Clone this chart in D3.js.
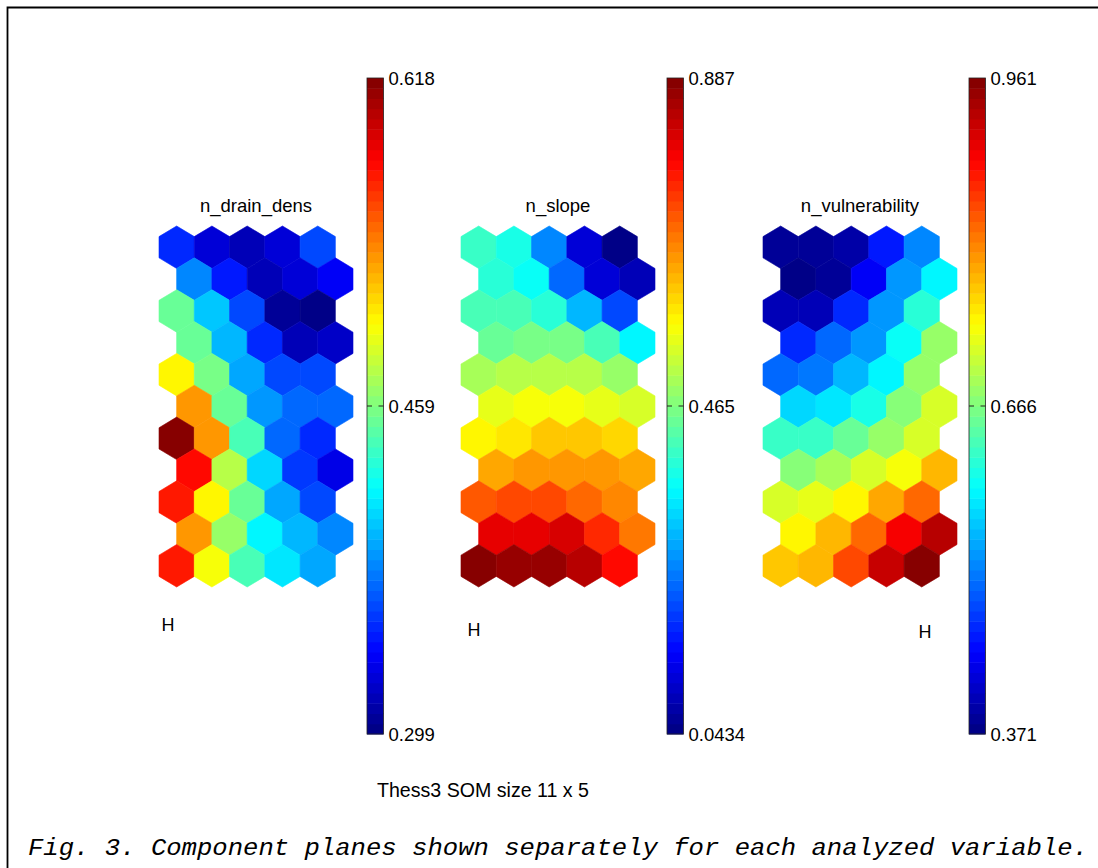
<!DOCTYPE html>
<html>
<head>
<meta charset="utf-8">
<script src="https://cdn.jsdelivr.net/npm/d3@7"></script>
<style>
  body { margin: 0; background: #fff; }
  text { font-family: Arial, "Liberation Sans", sans-serif; fill: #000; }
</style>
</head>
<body>
<div id="chart"></div>
<script>
// component names and colorbar limits
var names = ["n_drain_dens", "n_slope", "n_vulnerability"];
var mins = [0.299, 0.0434, 0.371];
var maxs = [0.618, 0.887, 0.961];
var tickLabels = [["0.299", "0.459", "0.618"], ["0.0434", "0.465", "0.887"], ["0.371", "0.666", "0.961"]];

// component plane values, 11 rows x 5 columns (row 0 = top)
var drainDens = [
    [0.353, 0.328, 0.315, 0.325, 0.363],
    [0.382, 0.347, 0.318, 0.325, 0.337],
    [0.449, 0.401, 0.360, 0.305, 0.299],
    [0.452, 0.395, 0.353, 0.318, 0.321],
    [0.503, 0.455, 0.392, 0.360, 0.360],
    [0.529, 0.452, 0.385, 0.372, 0.369],
    [0.618, 0.532, 0.439, 0.372, 0.353],
    [0.577, 0.478, 0.404, 0.356, 0.331],
    [0.573, 0.503, 0.449, 0.392, 0.360],
    [0.532, 0.465, 0.417, 0.398, 0.379],
    [0.573, 0.497, 0.439, 0.411, 0.392]
];
var slope = [
    [0.406, 0.381, 0.263, 0.111, 0.0434],
    [0.398, 0.360, 0.229, 0.111, 0.086],
    [0.415, 0.423, 0.398, 0.296, 0.204],
    [0.448, 0.465, 0.465, 0.415, 0.347],
    [0.499, 0.507, 0.516, 0.507, 0.482],
    [0.545, 0.566, 0.566, 0.555, 0.533],
    [0.571, 0.592, 0.617, 0.617, 0.600],
    [0.642, 0.651, 0.659, 0.651, 0.642],
    [0.710, 0.718, 0.718, 0.701, 0.668],
    [0.803, 0.803, 0.811, 0.752, 0.685],
    [0.887, 0.862, 0.862, 0.836, 0.769]
];
var vulnerability = [
    [0.383, 0.383, 0.395, 0.454, 0.524],
    [0.371, 0.389, 0.442, 0.530, 0.589],
    [0.401, 0.406, 0.471, 0.530, 0.619],
    [0.465, 0.501, 0.530, 0.601, 0.678],
    [0.507, 0.513, 0.548, 0.589, 0.678],
    [0.572, 0.578, 0.607, 0.666, 0.719],
    [0.625, 0.625, 0.648, 0.684, 0.719],
    [0.672, 0.690, 0.713, 0.737, 0.784],
    [0.719, 0.725, 0.740, 0.790, 0.831],
    [0.740, 0.784, 0.825, 0.896, 0.932],
    [0.772, 0.784, 0.843, 0.920, 0.961]
];
var planes = [drainDens, slope, vulnerability];

var width = 1098, height = 868;

var svg = d3.select("#chart")
    .append("svg")
    .attr("width", width)
    .attr("height", height);

// figure frame (open at right and bottom, like the cropped scan)
svg.append("path")
    .attr("d", "M7.5," + height + "V7.5H" + width)
    .attr("fill", "none")
    .attr("stroke", "#000")
    .attr("stroke-width", 1.8);

// matlab jet colormap, 64 levels
function jet(t) {
    var c = function (v) { return Math.max(0, Math.min(1, v)); };
    return d3.rgb(255 * c(1.5 - Math.abs(4 * t - 3)),
        255 * c(1.5 - Math.abs(4 * t - 2)),
        255 * c(1.5 - Math.abs(4 * t - 1))).formatHex();
}
var jet64 = d3.range(64).map(function (i) { return jet((i + 0.5) / 64); });

// layout of each panel
var gridLeft = [159, 461, 763],
    gridW = 194,
    gridTop = 226,
    gridBottom = 587;
var barLeft = [367, 667, 969],
    barW = 16.5,
    barTop = 78,
    barBottom = 734;
var hPos = [[168, 625], [474, 630], [925, 632]];

planes.forEach(function (plane, p) {
    var color = d3.scaleQuantize()
        .domain([mins[p], maxs[p]])
        .range(jet64);

    // hex grid scales: columns in half-hex units, rows top to bottom
    var x = d3.scaleLinear()
        .domain([-0.5, 5])
        .range([gridLeft[p], gridLeft[p] + gridW]);
    var rowStep = (gridBottom - gridTop) / (10 + 4 / 3);
    var r = rowStep / 1.5;
    var y = d3.scaleLinear()
        .domain([0, 10])
        .range([gridTop + r, gridBottom - r]);
    var hw = x(0.5) - x(0);

    var hexPath = "M0," + (-r) + "L" + hw + "," + (-r / 2) + "L" + hw + "," + (r / 2) +
        "L0," + r + "L" + (-hw) + "," + (r / 2) + "L" + (-hw) + "," + (-r / 2) + "Z";

    var cells = [];
    plane.forEach(function (row, i) {
        row.forEach(function (v, j) { cells.push({ row: i, col: j, value: v }); });
    });

    var g = svg.append("g");
    g.selectAll("path")
        .data(cells)
        .enter()
        .append("path")
        .attr("d", hexPath)
        .attr("transform", function (d) {
            return "translate(" + x(d.col + (d.row % 2) * 0.5) + "," + y(d.row) + ")";
        })
        .attr("fill", function (d) { return color(d.value); })
        .attr("stroke", function (d) { return color(d.value); })
        .attr("stroke-width", 0.6);

    // title
    svg.append("text")
        .attr("x", gridLeft[p] + gridW / 2)
        .attr("y", 212)
        .attr("text-anchor", "middle")
        .style("font-size", "18.5px")
        .text(names[p]);

    // "H" marker
    svg.append("text")
        .attr("x", hPos[p][0])
        .attr("y", hPos[p][1])
        .attr("text-anchor", "middle")
        .attr("dominant-baseline", "central")
        .style("font-size", "18px")
        .text("H");

    // colorbar
    var cy = d3.scaleLinear()
        .domain([mins[p], maxs[p]])
        .range([barBottom, barTop]);
    var step = (maxs[p] - mins[p]) / 64;
    svg.append("g")
        .selectAll("rect")
        .data(jet64)
        .enter()
        .append("rect")
        .attr("x", barLeft[p])
        .attr("width", barW)
        .attr("y", function (d, i) { return cy(mins[p] + (i + 1) * step); })
        .attr("height", function (d, i) { return cy(mins[p] + i * step) - cy(mins[p] + (i + 1) * step) + 0.5; })
        .attr("fill", function (d) { return d; });

    svg.append("rect")
        .attr("x", barLeft[p])
        .attr("y", barTop)
        .attr("width", barW)
        .attr("height", barBottom - barTop)
        .attr("fill", "none")
        .attr("stroke", "#222")
        .attr("stroke-width", 0.8);

    var ticks = [mins[p], (mins[p] + maxs[p]) / 2, maxs[p]];
    var tg = svg.append("g");
    tg.selectAll("line.l")
        .data(ticks.slice(1, 2))
        .enter()
        .append("line")
        .attr("x1", barLeft[p]).attr("x2", barLeft[p] + 5)
        .attr("y1", function (d) { return cy(d); }).attr("y2", function (d) { return cy(d); })
        .attr("stroke", "#222");
    tg.selectAll("line.r")
        .data(ticks.slice(1, 2))
        .enter()
        .append("line")
        .attr("x1", barLeft[p] + barW - 5).attr("x2", barLeft[p] + barW)
        .attr("y1", function (d) { return cy(d); }).attr("y2", function (d) { return cy(d); })
        .attr("stroke", "#222");
    tg.selectAll("text")
        .data(ticks)
        .enter()
        .append("text")
        .attr("x", barLeft[p] + barW + 5)
        .attr("y", function (d) { return cy(d); })
        .attr("dominant-baseline", "central")
        .style("font-size", "18.5px")
        .text(function (d, i) { return tickLabels[p][i]; });
});

// figure title and caption
svg.append("text")
    .attr("x", 483)
    .attr("y", 797)
    .attr("text-anchor", "middle")
    .attr("textLength", 212)
    .attr("lengthAdjust", "spacingAndGlyphs")
    .style("font-size", "19.5px")
    .text("Thess3 SOM size 11 x 5");

svg.append("text")
    .attr("x", 28)
    .attr("y", 855)
    .attr("textLength", 1060)
    .attr("lengthAdjust", "spacingAndGlyphs")
    .style("font-family", "'Courier New', 'Liberation Mono', monospace")
    .style("font-style", "italic")
    .style("font-size", "24px")
    .text("Fig. 3. Component planes shown separately for each analyzed variable.");
</script>
</body>
</html>
